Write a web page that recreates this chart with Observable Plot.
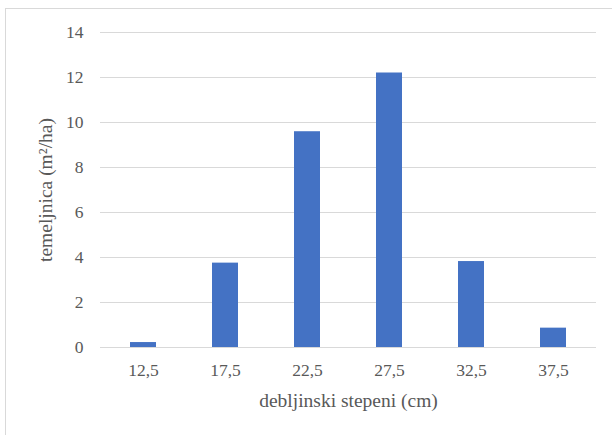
<!DOCTYPE html>
<html>
<head>
<meta charset="utf-8">
<script src="https://cdn.jsdelivr.net/npm/d3@7"></script>
<script src="https://cdn.jsdelivr.net/npm/@observablehq/plot@0.6"></script>
<style>
  html, body { margin: 0; padding: 0; background: #ffffff; }
  #chart { position: relative; width: 612px; height: 435px; overflow: hidden; }
  #frame {
    position: absolute; left: 5px; top: 8px; width: 640px; height: 460px;
    border-left: 1px solid #d9d9d9; border-top: 1px solid #d9d9d9;
    box-sizing: border-box; pointer-events: none;
  }
  #chart svg { position: absolute; left: 0; top: 0; }
  .serif text { font-family: "Times New Roman" !important; }
</style>
</head>
<body>
<div id="chart" class="serif"><div id="frame"></div></div>
<script>
// Diameter classes (cm) and basal area per hectare
const classes = ["12,5", "17,5", "22,5", "27,5", "32,5", "37,5"];
const basalArea = [0.22, 3.75, 9.59, 12.2, 3.82, 0.86];
const yTicks = [0, 2, 4, 6, 8, 10, 12, 14];
const xTitle = "debljinski stepeni (cm)";
const yTitle = "temeljnica (m²/ha)";

const rows = classes.map((c, i) => ({ klasa: c, temeljnica: basalArea[i] }));

const font = "Times New Roman";
const textColor = "#595959";
const gridColor = "#d9d9d9";

const chart = Plot.plot({
  width: 612,
  height: 435,
  marginLeft: 100,
  marginRight: 16,
  marginTop: 32,
  marginBottom: 88,
  style: "font-family: 'Times New Roman'; background: transparent;",
  x: { type: "band", domain: classes, paddingInner: 0.685, paddingOuter: 0.3425, label: null },
  y: { domain: [0, 14], label: null },
  marks: [
    Plot.gridY(yTicks, { stroke: gridColor, strokeOpacity: 1, strokeWidth: 1 }),
    Plot.barY(rows, { x: "klasa", y: "temeljnica", fill: "#4472c4" }),
    Plot.ruleY([0], { stroke: gridColor, strokeWidth: 1 }),
    Plot.axisY(yTicks, { tickSize: 0, tickPadding: 17, fontSize: 17.5, fontFamily: font, fill: textColor, label: null }),
    Plot.axisX({ tickSize: 0, tickPadding: 16, fontSize: 17.5, fontFamily: font, fill: textColor, label: null }),
    Plot.text([xTitle], {
      frameAnchor: "bottom", textAnchor: "middle", lineAnchor: "middle",
      dy: 52.8, fontSize: 19.5, fontFamily: font, fill: textColor
    }),
    Plot.text([yTitle], {
      frameAnchor: "left", textAnchor: "middle", lineAnchor: "middle",
      rotate: -90, dx: -55, fontSize: 19.5, fontFamily: font, fill: textColor
    })
  ]
});

document.getElementById("chart").appendChild(chart);
</script>
</body>
</html>
